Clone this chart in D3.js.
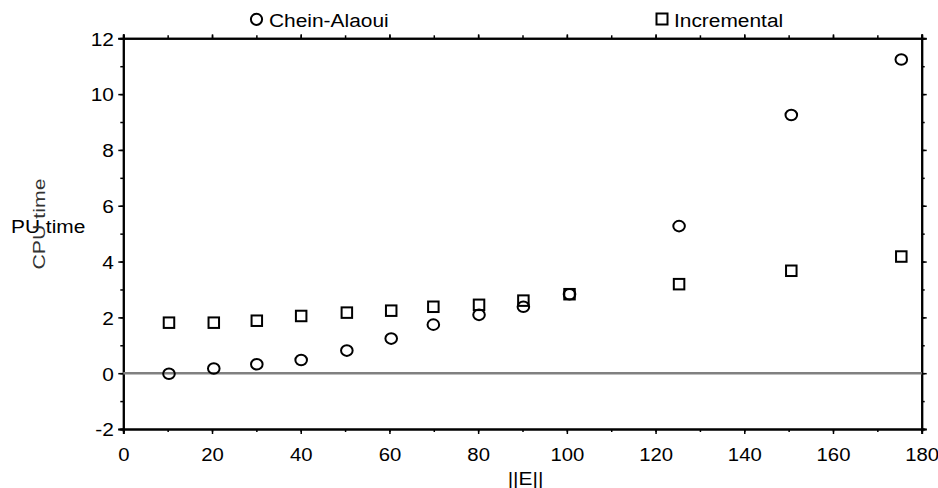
<!DOCTYPE html>
<html>
<head>
<meta charset="utf-8">
<script src="https://cdn.jsdelivr.net/npm/d3@7"></script>
<style>
  html, body { margin: 0; padding: 0; background: #fff; }
  svg { display: block; font-family: "Liberation Sans", Arial, sans-serif; }
</style>
</head>
<body>
<svg id="chart" width="938" height="488"></svg>
<script>
// ||E|| sizes and measured CPU times for both algorithms
const edgeCounts = [10.3, 20.4, 30.1, 40.1, 50.4, 60.4, 69.9, 80.2, 90.2, 100.6, 125.3, 150.6, 175.4];
const cheinAlaoui = [-0.02, 0.17, 0.32, 0.47, 0.81, 1.24, 1.74, 2.09, 2.38, 2.83, 5.27, 9.25, 11.24];
const incremental = [1.81, 1.81, 1.88, 2.05, 2.17, 2.24, 2.38, 2.45, 2.6, 2.83, 3.19, 3.67, 4.18];
const xTicks = [0, 20, 40, 60, 80, 100, 120, 140, 160, 180];
const yTicks = [-2, 0, 2, 4, 6, 8, 10, 12];
const seriesNames = ["Chein-Alaoui", "Incremental"];

const svg = d3.select("#chart");
const plotLeft = 123.3, plotRight = 921.7, plotTop = 38.3, plotBottom = 429;
const STRETCH = 1.1;   // text is drawn slightly wide
const FONT = 19;
const plainNumber = d => String(d);   // ASCII hyphen for negatives

const x = d3.scaleLinear().domain([0, 180]).range([plotLeft, plotRight]);
const y = d3.scaleLinear().domain([-2, 12]).range([plotBottom, plotTop]);

function styleAxis(g) {
  g.selectAll("path.domain").attr("stroke", "#000").attr("stroke-width", 2);
  g.selectAll(".tick line").attr("stroke", "#000").attr("stroke-width", 1.5);
}

// minor ticks (every 10 on x, every 1 on y)
const xMinor = d3.range(0, 181, 10);
const yMinor = d3.range(-2, 12.01, 1);

[[d3.axisBottom, `translate(0,${plotBottom})`, x, xMinor],
 [d3.axisTop, `translate(0,${plotTop})`, x, xMinor],
 [d3.axisLeft, `translate(${plotLeft},0)`, y, yMinor],
 [d3.axisRight, `translate(${plotRight},0)`, y, yMinor]].forEach(([fn, tr, sc, vals]) => {
  svg.append("g").attr("transform", tr)
    .call(fn(sc).tickValues(vals).tickSize(3).tickFormat(""))
    .call(styleAxis);
});

// major ticks on the frame
svg.append("g").attr("transform", `translate(0,${plotTop})`)
  .call(d3.axisTop(x).tickValues(xTicks).tickSize(4).tickFormat("")).call(styleAxis);
svg.append("g").attr("transform", `translate(${plotRight},0)`)
  .call(d3.axisRight(y).tickValues(yTicks).tickSize(5).tickFormat("")).call(styleAxis);

// labelled axes
const gx = svg.append("g").attr("transform", `translate(0,${plotBottom})`)
  .call(d3.axisBottom(x).tickValues(xTicks).tickSize(5).tickFormat(plainNumber))
  .call(styleAxis);
gx.selectAll(".tick text")
  .attr("y", 32).attr("dy", null)
  .attr("font-size", FONT).attr("font-family", "Liberation Sans, Arial, sans-serif")
  .attr("fill", "#000")
  .attr("transform", `scale(1.07,1)`);

const gy = svg.append("g").attr("transform", `translate(${plotLeft},0)`)
  .call(d3.axisLeft(y).tickValues(yTicks).tickSize(5).tickFormat(plainNumber))
  .call(styleAxis);
gy.selectAll(".tick text")
  .attr("x", -8.5).attr("dy", "0.36em")
  .attr("font-size", FONT).attr("font-family", "Liberation Sans, Arial, sans-serif")
  .attr("fill", "#000")
  .attr("transform", `scale(${STRETCH},1)`);

// zero reference line
svg.append("line")
  .attr("x1", plotLeft).attr("x2", plotRight)
  .attr("y1", y(0)).attr("y2", y(0))
  .attr("stroke", "#808080").attr("stroke-width", 2.6);

function stretchedText(tx, ty, str, anchor, size) {
  return svg.append("text")
    .attr("transform", `translate(${tx},${ty}) scale(${STRETCH},1)`)
    .attr("text-anchor", anchor || "start")
    .attr("font-size", size || FONT)
    .attr("fill", "#000")
    .text(str);
}

// axis titles
stretchedText((plotLeft + plotRight) / 2 + 3, 485, "||E||", "middle");
stretchedText(11, 233.3, "PU time", "start");
svg.append("text")
  .attr("transform", `translate(44.5,224) rotate(-90) scale(1,${STRETCH})`)
  .attr("text-anchor", "middle")
  .attr("font-size", 15.5)
  .attr("fill", "#333")
  .attr("textLength", 91)
  .attr("lengthAdjust", "spacingAndGlyphs")
  .text("CPU time");

// markers
const circleG = svg.append("g");
circleG.selectAll("ellipse").data(edgeCounts.map((e, i) => [e, cheinAlaoui[i]]))
  .join("ellipse")
  .attr("cx", d => x(d[0])).attr("cy", d => y(d[1]))
  .attr("rx", 5.8).attr("ry", 5.3)
  .attr("fill", "none").attr("stroke", "#000").attr("stroke-width", 2);

const sq = 10.5;
const squareG = svg.append("g");
squareG.selectAll("rect").data(edgeCounts.map((e, i) => [e, incremental[i]]))
  .join("rect")
  .attr("x", d => x(d[0]) - sq / 2).attr("y", d => y(d[1]) - sq / 2)
  .attr("width", sq).attr("height", sq)
  .attr("fill", "none").attr("stroke", "#000").attr("stroke-width", 2);

// legend above the plot
svg.append("ellipse").attr("cx", 256.5).attr("cy", 19.3).attr("rx", 5.6).attr("ry", 5.6)
  .attr("fill", "none").attr("stroke", "#000").attr("stroke-width", 2);
stretchedText(269, 26.7, seriesNames[0]);
svg.append("rect").attr("x", 656.5).attr("y", 13.5).attr("width", 11).attr("height", 11)
  .attr("fill", "none").attr("stroke", "#000").attr("stroke-width", 2);
stretchedText(674, 26.7, seriesNames[1]);
</script>
</body>
</html>
